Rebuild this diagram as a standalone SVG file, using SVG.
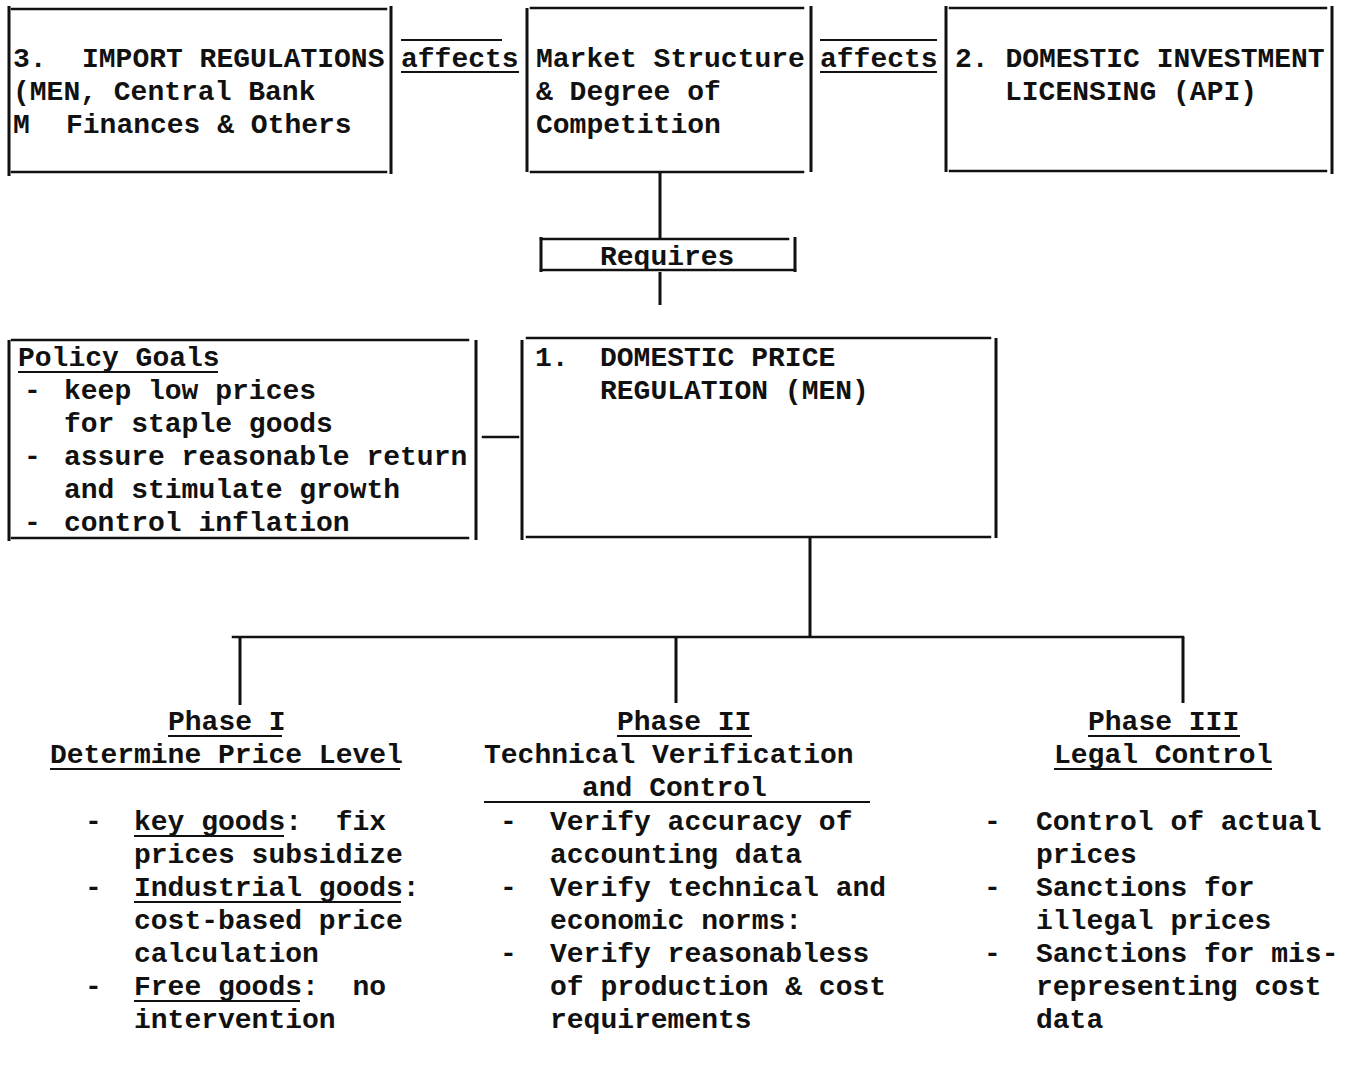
<svg xmlns="http://www.w3.org/2000/svg" width="1350" height="1066" viewBox="0 0 1350 1066" xml:space="preserve">
<style>
.t{font-family:"Liberation Mono","DejaVu Sans Mono",monospace;font-size:28px;font-weight:bold;fill:#111;white-space:pre}
.ln{stroke:#111;stroke-width:2.5;fill:none;stroke-linecap:square}
.v{stroke:#111;stroke-width:3;fill:none}
.u{stroke:#111;stroke-width:2;fill:none}
</style>
<rect width="1350" height="1066" fill="#fff"/>
<g id="connectors">
<path class="u" d="M401 40H502M401 72H519M820 40H937M820 72H937"/>
<path class="v" d="M660 172V238M660 272V305"/>
<path class="ln" d="M483 437H518"/>
<path class="v" d="M810 537V637"/>
<path class="ln" d="M233 637H1183"/>
<path class="v" d="M240 637V705M676 637V703M1183 637V703"/>
<text class="t" x="401" y="67">affects</text>
<text class="t" x="820" y="67">affects</text>
</g>
<g id="node-import">
<path class="v" d="M9 6V176M391 6V174"/>
<path class="ln" d="M12 9H386M12 172H386"/>
<text class="t" x="13" y="67">3.</text>
<text class="t" x="82" y="67">IMPORT REGULATIONS</text>
<text class="t" x="13" y="100">(MEN, Central Bank</text>
<text class="t" x="13" y="133">M</text>
<text class="t" x="66" y="133">Finances &amp; Others</text>
</g>
<g id="node-market">
<path class="v" d="M527 8V172M811 6V172"/>
<path class="ln" d="M531 8H803M531 172H803"/>
<text class="t" x="536" y="67">Market Structure</text>
<text class="t" x="536" y="100">&amp; Degree of</text>
<text class="t" x="536" y="133">Competition</text>
</g>
<g id="node-licensing">
<path class="v" d="M946 6V172M1332 6V174"/>
<path class="ln" d="M950 8H1326M950 171H1326"/>
<text class="t" x="955" y="67">2. DOMESTIC INVESTMENT</text>
<text class="t" x="1005" y="100">LICENSING (API)</text>
</g>
<g id="node-requires">
<path class="v" d="M541 237V272M795 237V272"/>
<path class="ln" d="M541 239H788M541 270H795"/>
<text class="t" x="600" y="265">Requires</text>
</g>
<g id="node-goals">
<path class="v" d="M9 340V541M476 340V540"/>
<path class="ln" d="M12 340H468M12 538H468"/>
<text class="t" x="18" y="366">Policy Goals</text>
<path class="u" d="M18 372H218"/>
<text class="t" x="24" y="399">-</text>
<text class="t" x="64" y="399">keep low prices</text>
<text class="t" x="64" y="432">for staple goods</text>
<text class="t" x="24" y="465">-</text>
<text class="t" x="64" y="465">assure reasonable return</text>
<text class="t" x="64" y="498">and stimulate growth</text>
<text class="t" x="24" y="531">-</text>
<text class="t" x="64" y="531">control inflation</text>
</g>
<g id="node-price">
<path class="v" d="M522 340V540M996 338V538"/>
<path class="ln" d="M527 338H990M527 537H990"/>
<text class="t" x="535" y="366">1.</text>
<text class="t" x="600" y="366">DOMESTIC PRICE</text>
<text class="t" x="600" y="399">REGULATION (MEN)</text>
</g>
<g id="node-phase1">
<text class="t" x="168" y="730">Phase I</text>
<path class="u" d="M168 736H282"/>
<text class="t" x="50" y="763">Determine Price Level</text>
<path class="u" d="M50 769H400"/>
<text class="t" x="85" y="830">-</text>
<text class="t" x="134" y="830">key goods:  fix</text>
<path class="u" d="M134 836H284"/>
<text class="t" x="134" y="863">prices subsidize</text>
<text class="t" x="85" y="896">-</text>
<text class="t" x="134" y="896">Industrial goods:</text>
<path class="u" d="M134 902H401"/>
<text class="t" x="134" y="929">cost-based price</text>
<text class="t" x="134" y="962">calculation</text>
<text class="t" x="85" y="995">-</text>
<text class="t" x="134" y="995">Free goods:  no</text>
<path class="u" d="M134 1001H300"/>
<text class="t" x="134" y="1028">intervention</text>
</g>
<g id="node-phase2">
<text class="t" x="617" y="730">Phase II</text>
<path class="u" d="M617 736H752"/>
<text class="t" x="484" y="763">Technical Verification</text>
<text class="t" x="582" y="796">and Control</text>
<path class="u" d="M484 802H870"/>
<text class="t" x="500" y="830">-</text>
<text class="t" x="550" y="830">Verify accuracy of</text>
<text class="t" x="550" y="863">accounting data</text>
<text class="t" x="500" y="896">-</text>
<text class="t" x="550" y="896">Verify technical and</text>
<text class="t" x="550" y="929">economic norms:</text>
<text class="t" x="500" y="962">-</text>
<text class="t" x="550" y="962">Verify reasonabless</text>
<text class="t" x="550" y="995">of production &amp; cost</text>
<text class="t" x="550" y="1028">requirements</text>
</g>
<g id="node-phase3">
<text class="t" x="1088" y="730">Phase III</text>
<path class="u" d="M1088 736H1240"/>
<text class="t" x="1054" y="763">Legal Control</text>
<path class="u" d="M1054 769H1272"/>
<text class="t" x="984" y="830">-</text>
<text class="t" x="1036" y="830">Control of actual</text>
<text class="t" x="1036" y="863">prices</text>
<text class="t" x="984" y="896">-</text>
<text class="t" x="1036" y="896">Sanctions for</text>
<text class="t" x="1036" y="929">illegal prices</text>
<text class="t" x="984" y="962">-</text>
<text class="t" x="1036" y="962">Sanctions for mis-</text>
<text class="t" x="1036" y="995">representing cost</text>
<text class="t" x="1036" y="1028">data</text>
</g>
</svg>
